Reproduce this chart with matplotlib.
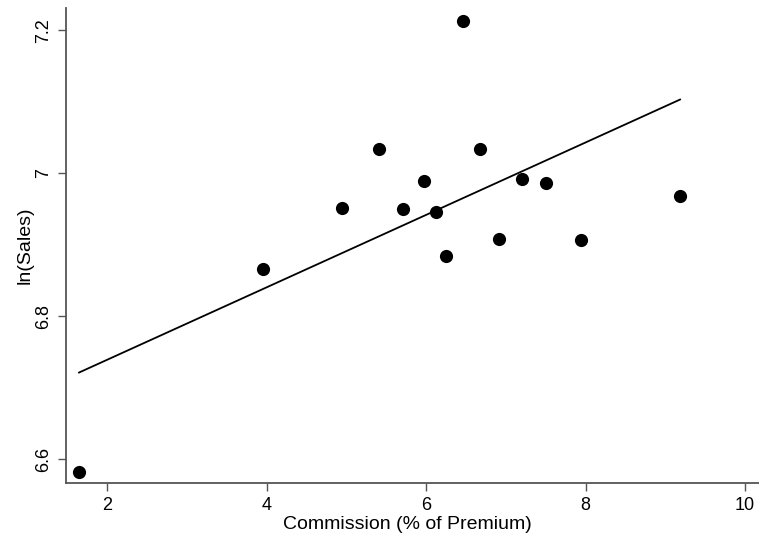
import numpy as np
import matplotlib.pyplot as plt

plt.rcParams['font.family'] = ['Liberation Sans', 'DejaVu Sans']

# commission rate (% of premium) and log of sales, one point per company
commission = [1.649, 3.955, 4.950, 5.415, 5.707, 5.979, 6.126, 6.247,
              6.469, 6.670, 6.908, 7.206, 7.507, 7.938, 9.184]
ln_sales = [6.582, 6.866, 6.951, 7.034, 6.950, 6.989, 6.946, 6.884,
            7.213, 7.034, 6.908, 6.992, 6.986, 6.907, 6.968]

# fitted line
fit_intercept = 6.6374
fit_slope = 0.0507

x_ticks = [2, 4, 6, 8, 10]
y_ticks = [6.6, 6.8, 7.0, 7.2]
y_tick_labels = ['6.6', '6.8', '7', '7.2']

fig = plt.figure(figsize=(7.59, 5.40), dpi=100)
ax = fig.add_axes([0.0866, 0.105, 0.913, 0.880])

ax.scatter(commission, ln_sales, s=90, color='black', zorder=3, linewidths=0)

xs = np.array([min(commission), max(commission)])
ax.plot(xs, fit_intercept + fit_slope * xs, color='black', lw=1.3)

ax.set_xlim(1.482, 10.17)
ax.set_ylim(6.566, 7.231)
ax.set_xticks(x_ticks)
ax.set_yticks(y_ticks)
ax.set_yticklabels(y_tick_labels, rotation=90, va='center')

for side in ['top', 'right']:
    ax.spines[side].set_visible(False)
for side in ['left', 'bottom']:
    ax.spines[side].set_color('#555555')
    ax.spines[side].set_linewidth(1.3)

ax.tick_params(axis='both', direction='out', length=6, width=1.0,
               color='#555555', labelsize=13, pad=4)

ax.set_xlabel('Commission (% of Premium)', fontsize=14, labelpad=1, x=0.493)
ax.set_ylabel('ln(Sales)', fontsize=14, labelpad=1)

fig.savefig('out.png', dpi=100)
plt.close(fig)
